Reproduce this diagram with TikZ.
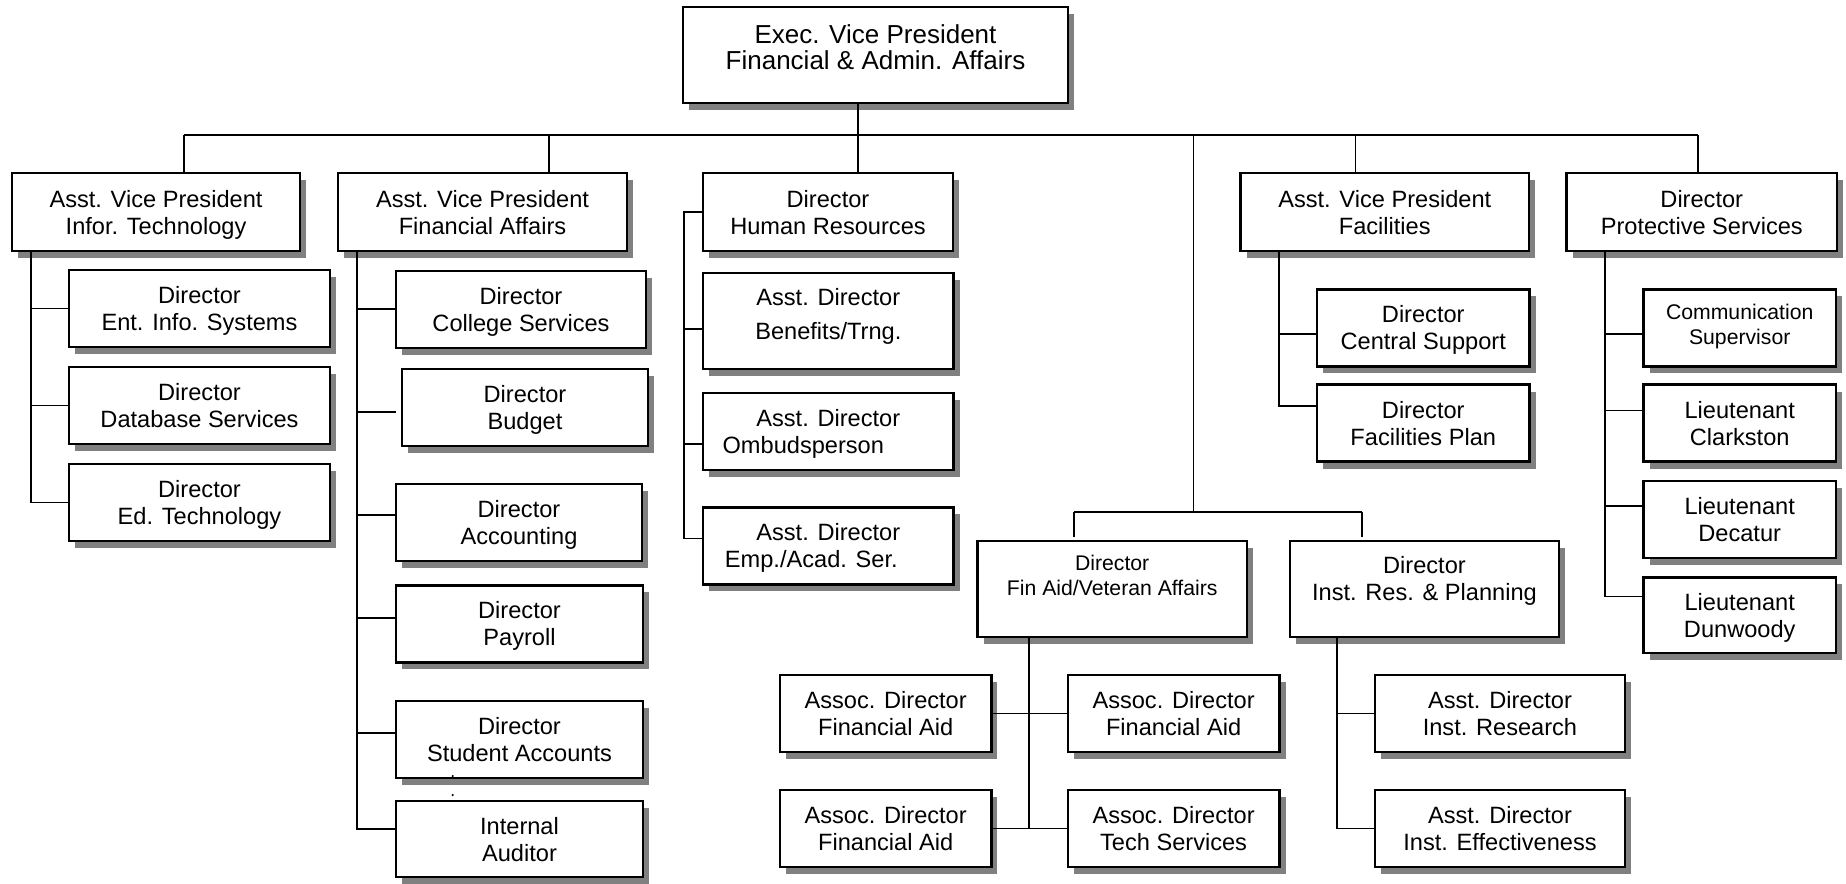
\documentclass[tikz,border=0pt]{standalone}
\usepackage{fontspec}
\setmainfont{Liberation Sans}
\usetikzlibrary{positioning, shadows}

\begin{document}
\begin{tikzpicture}[
    x=0.5pt, y=-0.5pt,
    post/.style={rectangle, draw, line width=1.2pt, fill=white, align=center, inner sep=0pt, outer sep=0pt,
        font=\fontsize{11.8}{13.5}\selectfont, text depth=0pt,
        drop shadow={shadow xshift=3pt, shadow yshift=-3.5pt, fill=black!50, opacity=1}},
    head/.style={post, minimum height=39pt, anchor=north west},
    leaf/.style={post, minimum height=38.5pt, anchor=north west},
    small/.style={font=\fontsize{10.6}{12.3}\selectfont},
    link/.style={line width=0.9pt}
]

\useasboundingbox (0,0) rectangle (1846,883);

% Top of the chart
\node[post, font=\fontsize{13}{13}\selectfont, text depth=7.5pt, minimum width=192.5pt, minimum height=48pt, anchor=north west] (exec) at (683,7) {Exec. Vice President\\Financial \& Admin. Affairs};

% Heads of the units
\node[head, minimum width=144pt] (itvp) at (12,173) {Asst. Vice President\\Infor. Technology};
\node[head, minimum width=144.5pt] (favp) at (338,173) {Asst. Vice President\\Financial Affairs};
\node[head, minimum width=125pt] (hr) at (703,173) {Director\\Human Resources};
\node[head, minimum width=144.25pt] (facvp) at (1240.5,173) {Asst. Vice President\\Facilities};
\node[head, minimum width=135.25pt] (prot) at (1566.5,173) {Director\\Protective Services};

% Infor. Technology
\node[leaf, minimum width=130.5pt] (eis) at (69,270) {Director\\Ent. Info. Systems};
\node[leaf, minimum width=130.5pt, below=10pt of eis.south west, anchor=north west] (dbs) {Director\\Database Services};
\node[leaf, minimum width=130.5pt, below=10pt of dbs.south west, anchor=north west] (edt) {Director\\Ed. Technology};

% Financial Affairs
\node[leaf, minimum width=125pt] (cs) at (396,270.7) {Director\\College Services};
\node[leaf, minimum width=123pt, below=10.7pt of cs.south west, anchor=north west, xshift=3pt] (bud) {Director\\Budget};
\node[leaf, minimum width=123pt, below=19pt of bud.south west, anchor=north west, xshift=-3pt] (acc) {Director\\Accounting};
\node[leaf, minimum width=123.5pt, below=12.15pt of acc.south west, anchor=north west] (pay) {Director\\Payroll};
\node[leaf, minimum width=123.5pt, below=19.15pt of pay.south west, anchor=north west] (sa) {Director\\Student Accounts};
\node[leaf, minimum width=123.5pt, minimum height=38pt, below=11.65pt of sa.south west, anchor=north west] (ia) {Internal\\Auditor};

% Human Resources
\node[leaf, minimum width=125.3pt, minimum height=48pt, text depth=6.45pt, below=10.85pt of hr.south west, anchor=north west] (ben) {Asst. Director\\[3.65pt]Benefits/Trng.};
\node[leaf, minimum width=125.3pt, below=12pt of ben.south west, anchor=north west] (omb) {Asst. Director\\Ombudsperson\hspace*{25pt}};
\node[leaf, minimum width=125.3pt, below=18.85pt of omb.south west, anchor=north west] (emp) {Asst. Director\\Emp./Acad. Ser.\hspace*{17pt}};

% Facilities
\node[leaf, minimum width=106.25pt] (csup) at (1317,289.3) {Director\\Central Support};
\node[leaf, minimum width=106.25pt, below=9.15pt of csup.south west, anchor=north west] (fplan) {Director\\Facilities Plan};

% Protective Services
\node[leaf, small, text depth=3.44pt, minimum width=96.1pt] (comm) at (1643.6,289.3) {Communication\\Supervisor};
\node[leaf, minimum width=96.1pt, below=9.15pt of comm.south west, anchor=north west] (clark) {Lieutenant\\Clarkston};
\node[leaf, minimum width=96.1pt, below=9.7pt of clark.south west, anchor=north west] (dec) {Lieutenant\\Decatur};
\node[leaf, minimum width=96.1pt, minimum height=37.8pt, below=9.7pt of dec.south west, anchor=north west] (dun) {Lieutenant\\Dunwoody};

% Fin Aid and Inst. Research
\node[post, small, text depth=13.44pt, minimum width=134.6pt, minimum height=48pt, anchor=north west] (finaid) at (977.6,540.7) {Director\\Fin Aid/Veteran Affairs};
\node[post, text depth=9.8pt, minimum width=134.55pt, minimum height=48pt, right=21.55pt of finaid] (ir) {Director\\Inst. Res. \& Planning};

\node[leaf, minimum width=105.65pt] (afa1) at (780,675) {Assoc. Director\\Financial Aid};
\node[leaf, minimum width=105.9pt, right=38.2pt of afa1] (afa2) {Assoc. Director\\Financial Aid};
\node[leaf, minimum width=105.65pt, below=19pt of afa1.south west, anchor=north west] (afa3) {Assoc. Director\\Financial Aid};
\node[leaf, minimum width=105.9pt, right=38.2pt of afa3] (ats) {Assoc. Director\\Tech Services};

\node[leaf, minimum width=125.15pt] (ares) at (1374.8,675) {Asst. Director\\Inst. Research};
\node[leaf, minimum width=125.15pt, below=19pt of ares.south west, anchor=north west] (aeff) {Asst. Director\\Inst. Effectiveness};

% Main bus
\coordinate (b1) at (184,135);
\coordinate (b2) at (549,135);
\coordinate (hub) at (858,135);
\coordinate (b4) at (1193.5,135);
\coordinate (b5) at (1355.5,135);
\coordinate (b6) at (1698,135);
\draw[link] (b1) -- (b6);
\draw[link] (b1) -- (b1 |- itvp.north);
\draw[link] (b2) -- (b2 |- favp.north);
\draw[link] (exec.south -| hub) -- (hub |- hr.north);
\draw[link] (b5) -- (b5 |- facvp.north);
\draw[link] (b6) -- (b6 |- prot.north);

% Lower split
\coordinate (split) at (1193.5,511.7);
\coordinate (s1) at (1074,511.7);
\coordinate (s2) at (1361.6,511.7);
\draw[link] (b4) -- (split);
\draw[link] (s1) -- (s2);
\draw[link, shorten >=2pt] (s1) -- (s1 |- finaid.north);
\draw[link, shorten >=2pt] (s2) -- (s2 |- ir.north);

% Infor. Technology lines
\coordinate (itt) at ([xshift=9.5pt]itvp.south west);
\draw[link] (itt) |- (edt.west);
\draw[link] (eis.west) -- ++(-19pt,0);
\draw[link] (dbs.west) -- ++(-19pt,0);

% Financial Affairs lines
\coordinate (fat) at ([xshift=9.5pt]favp.south west);
\draw[link] (fat) |- ([yshift=5.2pt]ia.west);
\draw[link] (cs.west) -- ++(-19.5pt,0);
\draw[link] ([xshift=-3pt, yshift=-2pt]bud.west) -- ++(-19.5pt,0);
\draw[link] ([yshift=3.75pt]acc.west) -- ++(-19.5pt,0);
\draw[link] ([yshift=2.85pt]pay.west) -- ++(-19.5pt,0);
\draw[link] ([yshift=3pt]sa.west) -- ++(-19.5pt,0);

% Human Resources lines
\draw[link] (hr.west) -- ++(-9.5pt,0) |- ([yshift=3.7pt]emp.west);
\draw[link] ([yshift=-4.3pt]ben.west) -- ++(-9.5pt,0);
\draw[link] ([yshift=-6.5pt]omb.west) -- ++(-9.5pt,0);

% Facilities lines
\coordinate (fct) at ([xshift=19.1pt]facvp.south west);
\draw[link] (fct) |- ([yshift=8.5pt]fplan.west);
\draw[link] ([yshift=-3.15pt]csup.west) -- ++(-19.15pt,0);

% Protective Services lines
\coordinate (prt) at ([xshift=19.25pt]prot.south west);
\draw[link] (prt) |- ([yshift=9.4pt]dun.west);
\draw[link] ([yshift=-3.15pt]comm.west) -- ++(-19.3pt,0);
\draw[link] ([yshift=6.3pt]clark.west) -- ++(-19.3pt,0);
\draw[link] ([yshift=6.65pt]dec.west) -- ++(-19.3pt,0);

% Fin Aid lines
\coordinate (fit) at ([xshift=25.55pt]finaid.south west);
\draw[link] (fit) -- (fit |- afa3.east);
\draw[link] (afa1.east) -- (afa2.west);
\draw[link] (afa3.east) -- (ats.west);

% Inst. Research lines
\coordinate (irt) at ([xshift=23.55pt]ir.south west);
\draw[link] (irt) |- (aeff.west);
\draw[link] (ares.west) -- ++(-18.9pt,0);

% stray marks
\fill (452.7,776) circle (0.6pt);
\fill (452.7,795) circle (0.6pt);

\end{tikzpicture}
\end{document}
